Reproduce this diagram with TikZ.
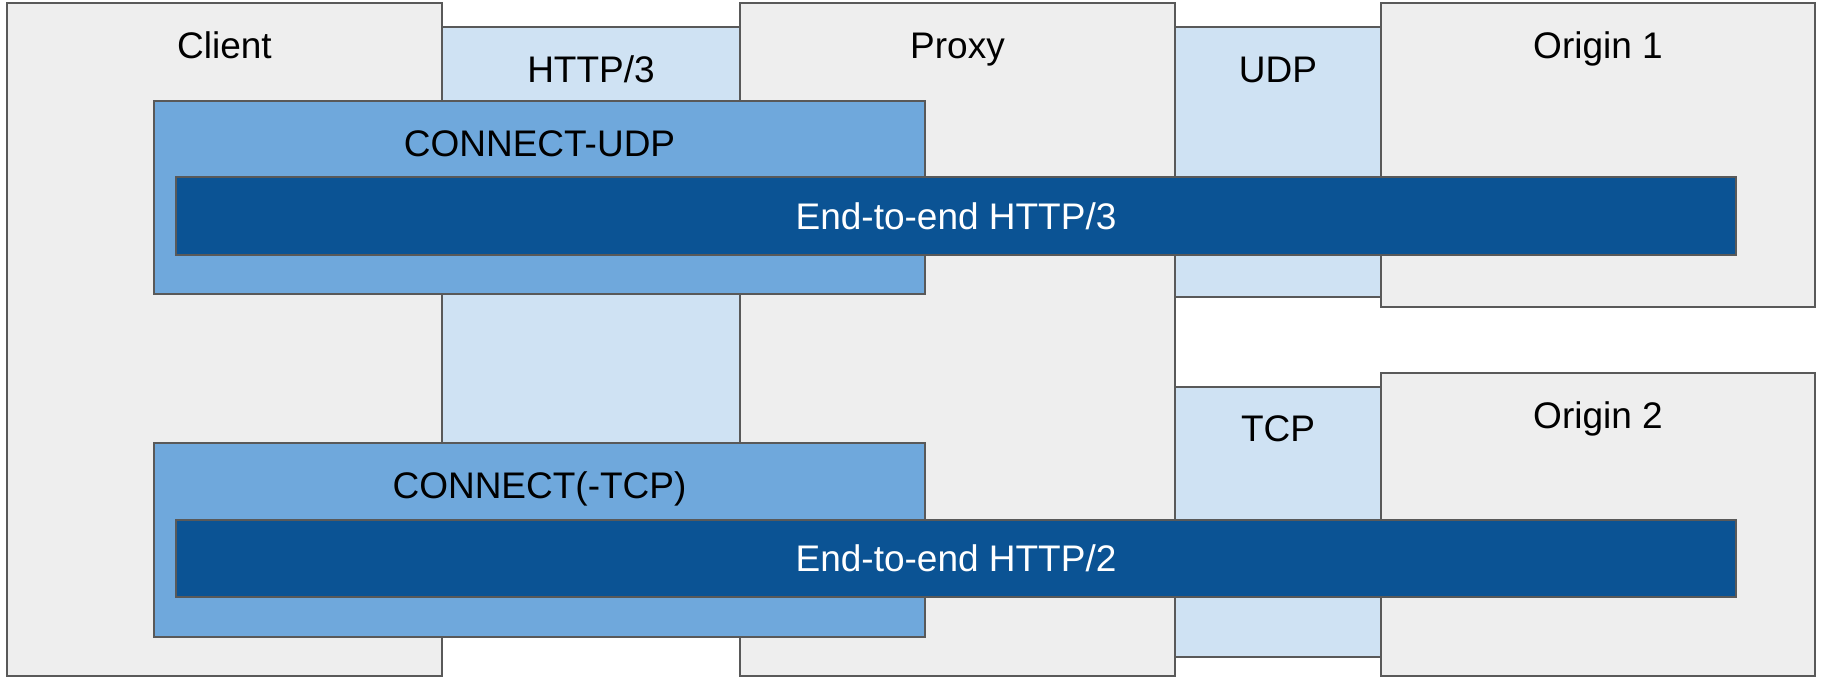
\documentclass[tikz,border=0pt]{standalone}
\usepackage{fontspec}
\setmainfont{Liberation Sans}
\usetikzlibrary{positioning,fit}
\definecolor{hostgrey}{HTML}{EEEEEE}
\definecolor{linkblue}{HTML}{CFE2F3}
\definecolor{tunnelblue}{HTML}{6FA8DC}
\definecolor{etoeblue}{HTML}{0B5394}
\definecolor{edgegrey}{HTML}{595959}
\tikzset{
  layer/.style={draw=edgegrey, line width=0.8pt, inner sep=0pt},
  host/.style={layer, fill=hostgrey},
  link/.style={layer, fill=linkblue},
  tunnel/.style={layer, fill=tunnelblue},
  etoe/.style={layer, fill=etoeblue},
  title/.style={anchor=base, inner sep=0pt, font=\fontsize{18.5}{22}\selectfont},
  etoetext/.style={inner sep=0pt, text=white, font=\fontsize{18.5}{22}\selectfont}
}

\begin{document}
\begin{tikzpicture}[x=0.5pt, y=-0.5pt]
  \useasboundingbox (0,0) rectangle (1825,677);
  \path node [host, fit={(7,3) (442,676)}] (client) {}
        node [link, fit={(442,27) (740,540)}] (http3) {}
        node [host, fit={(740,3) (1175,676)}] (proxy) {}
        node [link, fit={(1175,27) (1381,297)}] (udp) {}
        node [host, fit={(1381,3) (1815,307)}] (origin1) {}
        node [link, fit={(1175,387) (1381,657)}] (tcp) {}
        node [host, fit={(1381,373) (1815,676)}] (origin2) {};
  \path node [tunnel, fit={(154,101) (925,294)}] (connectudp) {}
        node [tunnel, fit={(154,443) (925,637)}] (connecttcp) {}
        node [etoe, fit={(176,177) (1736,255)}] (etoeh3) {}
        node [etoe, fit={(176,520) (1736,597)}] (etoeh2) {};
  \node [etoetext] (etoeh3name) at (etoeh3.center) {End-to-end HTTP/3};
  \node [etoetext] (etoeh2name) at (etoeh2.center) {End-to-end HTTP/2};
  \node [title] (clientname) at ([yshift=-28pt]client.north) {Client};
  \node [title] (http3name) at ([yshift=-28pt]http3.north) {HTTP/3};
  \node [title] (proxyname) at ([yshift=-28pt]proxy.north) {Proxy};
  \node [title] (udpname) at ([yshift=-28pt]udp.north) {UDP};
  \node [title] (origin1name) at ([yshift=-28pt]origin1.north) {Origin 1};
  \node [title] (tcpname) at ([yshift=-27.5pt]tcp.north) {TCP};
  \node [title] (origin2name) at ([yshift=-28pt]origin2.north) {Origin 2};
  \node [title] (connectudpname) at ([yshift=-28pt]connectudp.north) {CONNECT-UDP};
  \node [title] (connecttcpname) at ([yshift=-28pt]connecttcp.north) {CONNECT(-TCP)};
\end{tikzpicture}
\end{document}
